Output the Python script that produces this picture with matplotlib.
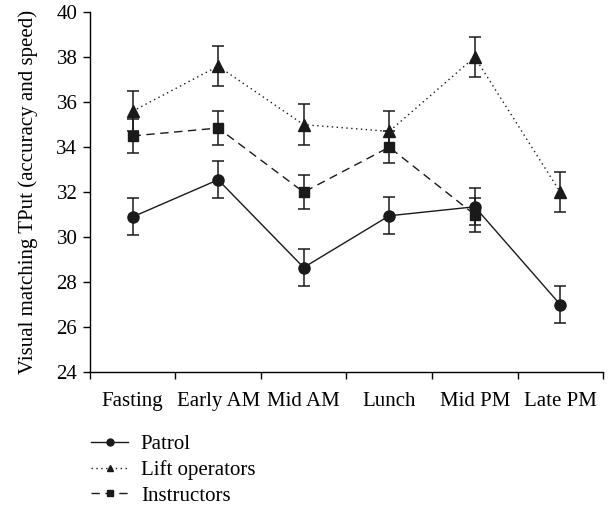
import matplotlib.pyplot as plt
from matplotlib.lines import Line2D
import numpy as np

plt.rcParams['font.family'] = ['Liberation Serif', 'DejaVu Serif']
plt.rcParams['font.size'] = 15

# Data
times = ['Fasting', 'Early AM', 'Mid AM', 'Lunch', 'Mid PM', 'Late PM']

patrol = [30.9, 32.55, 28.65, 30.95, 31.35, 27.0]
patrol_err = [0.82, 0.82, 0.82, 0.82, 0.82, 0.82]

lift = [35.6, 37.6, 35.0, 34.7, 38.0, 32.0]
lift_err = [0.9, 0.9, 0.9, 0.9, 0.9, 0.9]

instructors = [34.5, 34.85, 32.0, 34.0, 31.0]
instructors_err = [0.75, 0.75, 0.75, 0.72, 0.75]

x = np.arange(len(times))

fig = plt.figure(figsize=(6.11, 5.07), dpi=100)
ax = fig.add_axes([0.147, 0.266, 0.84, 0.71])

styles = [
    ('Patrol', patrol, patrol_err, '-', 'o', 8),
    ('Lift operators', lift, lift_err, (0, (1, 2.5)), '^', 8),
    ('Instructors', instructors, instructors_err, (0, (6, 4)), 's', 7.5),
]

handles = []
for name, vals, err, ls, mk, ms in styles:
    ax.errorbar(x[:len(vals)], vals, yerr=err, color='#1a1a1a', ls=ls, lw=1.0,
                marker=mk, ms=ms, capsize=4, elinewidth=1.1, capthick=1.1)
    handles.append(Line2D([], [], color='#1a1a1a', ls=ls, lw=1.0,
                          marker=mk, ms=5, label=name))

ax.set_xlim(-0.5, len(times) - 0.5)
ax.set_ylim(24, 40)
ax.set_yticks(np.arange(24, 41, 2))
ax.set_xticks(x)
ax.set_xticklabels(times)
ax.set_xticks(np.arange(-0.5, len(times), 1), minor=True)
ax.tick_params(axis='x', which='major', length=0, pad=14)
ax.tick_params(axis='x', which='minor', length=5, direction='out', width=1.0)
ax.tick_params(axis='y', length=5, direction='out', width=1.0, pad=4)
for s in ['top', 'right']:
    ax.spines[s].set_visible(False)
for s in ['left', 'bottom']:
    ax.spines[s].set_linewidth(1.0)
ax.set_ylabel('Visual matching TPut (accuracy and speed)', labelpad=13)

fig.legend(handles=handles, loc='upper left', bbox_to_anchor=(0.135, 0.16),
           frameon=False, handlelength=1.8, handletextpad=0.6,
           labelspacing=0.3, borderaxespad=0)

fig.savefig('out.png', dpi=100)
